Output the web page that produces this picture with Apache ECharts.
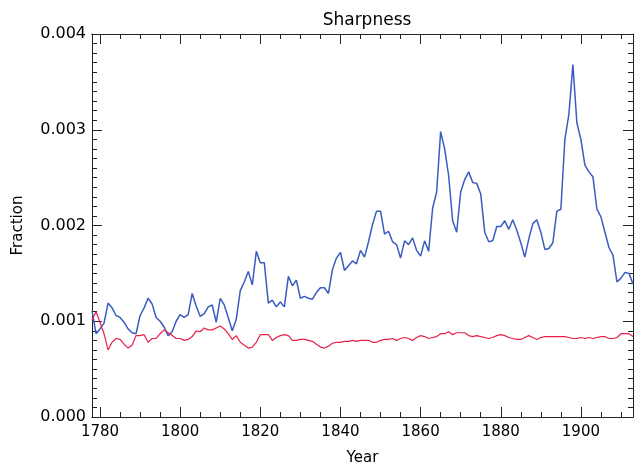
<!DOCTYPE html>
<html>
<head>
<meta charset="utf-8">
<script src="https://cdn.jsdelivr.net/npm/echarts@6.0.0/dist/echarts.min.js"></script>
<style>
  html, body { margin: 0; padding: 0; background: #fff; }
</style>
</head>
<body>
<div id="main" style="width: 642px;height: 471px;"></div>
<script>
// years, one point per year
var years = [
  1778, 1779, 1780, 1781, 1782, 1783, 1784, 1785, 1786, 1787,
  1788, 1789, 1790, 1791, 1792, 1793, 1794, 1795, 1796, 1797,
  1798, 1799, 1800, 1801, 1802, 1803, 1804, 1805, 1806, 1807,
  1808, 1809, 1810, 1811, 1812, 1813, 1814, 1815, 1816, 1817,
  1818, 1819, 1820, 1821, 1822, 1823, 1824, 1825, 1826, 1827,
  1828, 1829, 1830, 1831, 1832, 1833, 1834, 1835, 1836, 1837,
  1838, 1839, 1840, 1841, 1842, 1843, 1844, 1845, 1846, 1847,
  1848, 1849, 1850, 1851, 1852, 1853, 1854, 1855, 1856, 1857,
  1858, 1859, 1860, 1861, 1862, 1863, 1864, 1865, 1866, 1867,
  1868, 1869, 1870, 1871, 1872, 1873, 1874, 1875, 1876, 1877,
  1878, 1879, 1880, 1881, 1882, 1883, 1884, 1885, 1886, 1887,
  1888, 1889, 1890, 1891, 1892, 1893, 1894, 1895, 1896, 1897,
  1898, 1899, 1900, 1901, 1902, 1903, 1904, 1905, 1906, 1907,
  1908, 1909, 1910, 1911, 1912, 1913
]
var blueData = [
  0.00111, 0.00087, 0.00092, 0.00098, 0.00119, 0.00114, 0.00106, 0.00104, 0.00099, 0.00092,
  0.00088, 0.00087, 0.00106, 0.00114, 0.00124, 0.00118, 0.00104, 0.00100, 0.00094, 0.00085,
  0.00089, 0.00100, 0.00107, 0.00104, 0.00107, 0.00129, 0.00116, 0.00105, 0.00108, 0.00115,
  0.00117, 0.00099, 0.00124, 0.00117, 0.00104, 0.00090, 0.00102, 0.00132, 0.00141, 0.00152,
  0.00138, 0.00173, 0.00161, 0.00161, 0.00119, 0.00122, 0.00115, 0.00120, 0.00115, 0.00147,
  0.00137, 0.00143, 0.00124, 0.00126, 0.00124, 0.00123, 0.00130, 0.00135, 0.00135, 0.00129,
  0.00154, 0.00166, 0.00172, 0.00153, 0.00158, 0.00163, 0.00160, 0.00174, 0.00167, 0.00183,
  0.00201, 0.00215, 0.00215, 0.00191, 0.00194, 0.00183, 0.00180, 0.00166, 0.00184, 0.00180,
  0.00187, 0.00174, 0.00168, 0.00184, 0.00173, 0.00218, 0.00235, 0.00298, 0.00280, 0.00252,
  0.00205, 0.00193, 0.00235, 0.00248, 0.00256, 0.00245, 0.00244, 0.00233, 0.00193, 0.00183,
  0.00184, 0.00199, 0.00199, 0.00205, 0.00196, 0.00206, 0.00195, 0.00182, 0.00167, 0.00186,
  0.00202, 0.00206, 0.00193, 0.00175, 0.00176, 0.00182, 0.00215, 0.00217, 0.00290, 0.00316,
  0.00368, 0.00307, 0.00290, 0.00263, 0.00256, 0.00251, 0.00217, 0.00209, 0.00193, 0.00177,
  0.00169, 0.00141, 0.00145, 0.00151, 0.00150, 0.00139
]
var redData = [
  0.00101, 0.00110, 0.00099, 0.00087, 0.00070, 0.00078, 0.00082, 0.00081, 0.00076, 0.00072,
  0.00075, 0.00085, 0.00085, 0.00086, 0.00078, 0.00082, 0.00082, 0.00087, 0.00091, 0.00088,
  0.00085, 0.00082, 0.00082, 0.00080, 0.00081, 0.00084, 0.00090, 0.00089, 0.00093, 0.00091,
  0.00091, 0.00093, 0.00095, 0.00092, 0.00087, 0.00081, 0.00085, 0.00078, 0.00075, 0.00072,
  0.00073, 0.00078, 0.00086, 0.00086, 0.00086, 0.00080, 0.00083, 0.00085, 0.00086, 0.00085,
  0.00080, 0.00080, 0.00081, 0.00081, 0.00080, 0.00079, 0.00076, 0.00073, 0.00072, 0.00074,
  0.00077, 0.00078, 0.00078, 0.00079, 0.00079, 0.00080, 0.00079, 0.00080, 0.00080, 0.00080,
  0.00078, 0.00078, 0.00080, 0.00081, 0.00081, 0.00082, 0.00080, 0.00082, 0.00083, 0.00082,
  0.00080, 0.00083, 0.00085, 0.00084, 0.00082, 0.00083, 0.00084, 0.00087, 0.00087, 0.00089,
  0.00086, 0.00088, 0.00088, 0.00088, 0.00085, 0.00084, 0.00085, 0.00084, 0.00083, 0.00082,
  0.00083, 0.00085, 0.00086, 0.00085, 0.00083, 0.00082, 0.00081, 0.00081, 0.00083, 0.00085,
  0.00083, 0.00081, 0.00083, 0.00084, 0.00084, 0.00084, 0.00084, 0.00084, 0.00084, 0.00083,
  0.00082, 0.00082, 0.00083, 0.00082, 0.00083, 0.00082, 0.00083, 0.00084, 0.00084, 0.00082,
  0.00082, 0.00083, 0.00087, 0.00087, 0.00087, 0.00084
]
var xMajorTicks = [1780, 1800, 1820, 1840, 1860, 1880, 1900]
var xMinorTicks = [1780, 1785, 1790, 1795, 1800, 1805, 1810, 1815, 1820, 1825, 1830, 1835,
  1840, 1845, 1850, 1855, 1860, 1865, 1870, 1875, 1880, 1885, 1890, 1895, 1900, 1905, 1910]

var font = 'DejaVu Sans'
var axisColor = '#222'

function pairs(ys) {
  return years.map(function (y, i) { return [y, ys[i]] })
}

// one x axis per row of ticks: bottom/top, major/minor
function xAx(pos, ticks, len, withLabel) {
  return {
    type: 'value', position: pos, min: 1778, max: 1913,
    axisLine: {show: true, onZero: false, lineStyle: {color: axisColor, width: 1}},
    splitLine: {show: false},
    axisTick: {show: true, inside: true, length: len, customValues: ticks,
      lineStyle: {color: axisColor, width: 1}},
    axisLabel: withLabel ? {
      show: true, customValues: xMajorTicks, margin: 8,
      color: '#000', fontFamily: font, fontSize: 15,
      formatter: function (v) { return String(v) }
    } : {show: false}
  }
}

function yAx(pos, withLabel) {
  return {
    type: 'value', position: pos, min: 0, max: 0.004, interval: 0.001,
    axisLine: {show: true, lineStyle: {color: axisColor, width: 1}},
    splitLine: {show: false},
    axisTick: {show: true, inside: true, length: 10, lineStyle: {color: axisColor}},
    minorTick: {show: true, splitNumber: 10, length: 5, lineStyle: {color: axisColor}},
    axisLabel: withLabel ? {
      show: true, margin: 6, color: '#000', fontFamily: font, fontSize: 16,
      formatter: function (v) { return v.toFixed(3) }
    } : {show: false}
  }
}

var xAxes = [
  xAx('bottom', xMajorTicks, 10, true),
  xAx('bottom', xMinorTicks, 5, false),
  xAx('top', xMajorTicks, 10, false),
  xAx('top', xMinorTicks, 5, false)
]
xAxes[0].name = 'Year'
xAxes[0].nameLocation = 'middle'
xAxes[0].nameGap = 34
xAxes[0].nameTextStyle = {color: '#000', fontFamily: font, fontSize: 15}

var yAxes = [yAx('left', true), yAx('right', false)]
yAxes[0].name = 'Fraction'
yAxes[0].nameLocation = 'middle'
yAxes[0].nameGap = 66
yAxes[0].nameTextStyle = {color: '#000', fontFamily: font, fontSize: 15}

var option = {
  animation: false,
  backgroundColor: '#fff',
  title: {
    text: 'Sharpness', left: 362, top: 7, textAlign: 'center',
    textStyle: {color: '#000', fontFamily: font, fontSize: 17, fontWeight: 'normal'}
  },
  grid: {left: 92, right: 9, top: 34, bottom: 53},
  xAxis: xAxes,
  yAxis: yAxes,
  series: [
    {
      name: 'blue', type: 'line', xAxisIndex: 0, yAxisIndex: 0,
      data: pairs(blueData), showSymbol: false,
      lineStyle: {color: '#3a5cc0', width: 1.5}, clip: true
    },
    {
      name: 'red', type: 'line', xAxisIndex: 0, yAxisIndex: 0,
      data: pairs(redData), showSymbol: false,
      lineStyle: {color: '#e8204a', width: 1.2}, clip: true
    }
  ]
}

var mainEcharts = echarts.init(document.getElementById('main'))
mainEcharts.setOption(option)
</script>
</body>
</html>
